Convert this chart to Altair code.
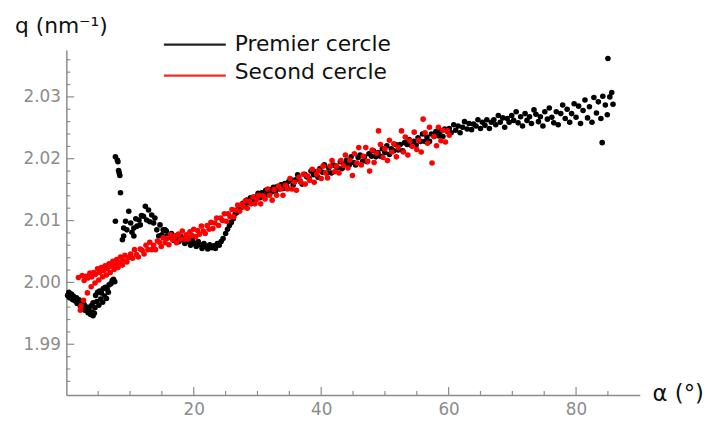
import altair as alt
import pandas as pd

# ---------------- data ----------------
# Premier cercle (black): (alpha in degrees, q in nm^-1)
black_start = [(0.2, 1.9979), (0.4, 1.9984), (0.5, 1.9975), (0.8, 1.9981), (1.0, 1.9972),
               (1.1, 1.9978), (1.4, 1.9970), (1.6, 1.9975), (1.7, 1.9966), (2.0, 1.9972),
               (2.2, 1.9962), (2.3, 1.9968), (2.6, 1.9959), (2.8, 1.9964), (2.9, 1.9955),
               (3.2, 1.9960), (3.4, 1.9951), (3.5, 1.9956), (3.8, 1.9948), (4.0, 1.9952),
               (4.2, 1.9946), (4.4, 1.9950)]
black_branch2 = [(3.9, 1.9962), (4.2, 1.9967), (4.5, 1.9959), (4.8, 1.9969), (5.1, 1.9963),
                 (5.4, 1.9973), (5.7, 1.9968), (6.0, 1.9978), (6.3, 1.9974), (6.6, 1.9984)]
black_branch3 = [(4.6, 1.9979), (4.9, 1.9984), (5.2, 1.9986), (5.5, 1.9983), (5.8, 1.9990),
                 (6.1, 1.9992), (6.4, 1.9989), (6.7, 1.9996), (7.0, 1.9998), (7.2, 2.0003),
                 (7.4, 2.0005), (7.6, 2.0001)]
black_jump = [(7.7, 2.0099), (7.7, 2.0203), (8.0, 2.0198), (8.1, 2.0195), (8.2, 2.0181),
              (8.3, 2.0177), (8.4, 2.0173), (8.5, 2.0145)]
black_cluster = [(8.8, 2.0069), (9.0, 2.0075), (9.0, 2.0088), (9.3, 2.0099), (9.5, 2.0085),
                 (9.8, 2.0115), (10.1, 2.0096), (10.3, 2.0081), (10.6, 2.0088), (10.6, 2.0075),
                 (10.9, 2.0103), (11.1, 2.0091), (11.4, 2.0101), (11.6, 2.0093), (11.8, 2.0108),
                 (12.1, 2.0107), (12.4, 2.0123), (12.6, 2.0101), (12.9, 2.0117), (13.1, 2.0098),
                 (13.4, 2.0109), (13.7, 2.0096), (13.9, 2.0104), (14.2, 2.0085), (14.5, 2.0075),
                 (14.7, 2.0093), (15.0, 2.0077), (15.2, 2.0085), (15.5, 2.0085), (15.7, 2.0083),
                 (15.8, 2.0075)]
black_dip = [(16.2, 2.0073), (16.5, 2.0079), (16.8, 2.0068), (17.1, 2.0075), (17.4, 2.0071),
             (17.7, 2.0066), (18.0, 2.0074), (18.3, 2.0069), (18.6, 2.0063), (18.9, 2.0072),
             (19.2, 2.0066), (19.5, 2.0060), (19.8, 2.0068), (20.1, 2.0063), (20.4, 2.0058),
             (20.7, 2.0066), (21.0, 2.0061), (21.3, 2.0055), (21.6, 2.0063), (21.9, 2.0058),
             (22.2, 2.0054), (22.5, 2.0061), (22.8, 2.0056), (23.1, 2.0059), (23.4, 2.0055),
             (23.7, 2.0063), (24.0, 2.0060), (24.3, 2.0066), (24.6, 2.0071)]
black_rise = [(25.0, 2.0079), (25.3, 2.0086), (25.6, 2.0092), (25.9, 2.0097), (26.2, 2.0103),
              (26.5, 2.0111), (26.8, 2.0113), (27.1, 2.0120), (27.4, 2.0121), (27.7, 2.0128),
              (28.0, 2.0124), (28.3, 2.0133), (28.6, 2.0129), (28.9, 2.0137), (29.2, 2.0131),
              (29.5, 2.0138), (29.8, 2.0134), (30.1, 2.0144), (30.4, 2.0137), (30.7, 2.0145),
              (31.0, 2.0140), (31.3, 2.0149), (31.6, 2.0142), (31.9, 2.0150), (32.2, 2.0146),
              (32.5, 2.0154), (32.8, 2.0147), (33.1, 2.0155), (33.4, 2.0151), (33.7, 2.0158),
              (34.0, 2.0152), (34.3, 2.0160), (34.6, 2.0155), (34.9, 2.0163)]
black_mid = [(35.3, 2.0166), (35.6, 2.0157), (36.0, 2.0166), (36.3, 2.0174), (36.7, 2.0164),
             (37.0, 2.0159), (37.4, 2.0175), (37.7, 2.0171), (38.1, 2.0168), (38.4, 2.0180),
             (38.8, 2.0174), (39.1, 2.0179), (39.5, 2.0170), (39.8, 2.0184), (40.2, 2.0178),
             (40.5, 2.0190), (40.9, 2.0177), (41.2, 2.0185), (41.6, 2.0177), (41.9, 2.0190),
             (42.3, 2.0188), (42.6, 2.0185), (43.0, 2.0195), (43.3, 2.0184), (43.7, 2.0192),
             (44.0, 2.0198), (44.4, 2.0190), (44.7, 2.0203), (45.1, 2.0194), (45.4, 2.0190),
             (45.8, 2.0202), (46.1, 2.0206), (46.5, 2.0196), (46.8, 2.0203), (47.2, 2.0195),
             (47.5, 2.0208), (47.9, 2.0204), (48.2, 2.0213), (48.6, 2.0203), (48.9, 2.0210),
             (49.3, 2.0204), (49.6, 2.0216), (50.0, 2.0210), (50.3, 2.0221), (50.7, 2.0207),
             (51.0, 2.0216), (51.4, 2.0213), (51.7, 2.0223), (52.1, 2.0214), (52.4, 2.0223),
             (52.8, 2.0213), (53.1, 2.0226), (53.5, 2.0223), (53.8, 2.0231), (54.2, 2.0221),
             (54.5, 2.0228), (54.9, 2.0222), (55.2, 2.0234), (55.6, 2.0228), (55.9, 2.0240),
             (56.3, 2.0228), (56.6, 2.0235), (57.0, 2.0228), (57.3, 2.0240), (57.7, 2.0236),
             (58.0, 2.0244), (58.4, 2.0237), (58.7, 2.0244), (59.1, 2.0236), (59.4, 2.0248),
             (59.8, 2.0244)]
black_end = [(60.1, 2.0249), (60.4, 2.0242), (60.8, 2.0255), (61.1, 2.0246), (61.5, 2.0253),
             (61.8, 2.0242), (62.2, 2.0251), (62.5, 2.0260), (62.9, 2.0248), (63.2, 2.0257),
             (63.6, 2.0247), (63.9, 2.0256), (64.3, 2.0253), (64.6, 2.0263), (65.0, 2.0249),
             (65.3, 2.0259), (65.7, 2.0254), (66.0, 2.0263), (66.4, 2.0249), (66.7, 2.0259),
             (67.1, 2.0263), (67.4, 2.0255), (67.8, 2.0270), (68.1, 2.0259), (68.5, 2.0266),
             (68.8, 2.0251), (69.2, 2.0265), (69.5, 2.0259), (69.9, 2.0270), (70.2, 2.0262),
             (70.6, 2.0276), (70.9, 2.0258), (71.3, 2.0268), (71.6, 2.0253), (72.0, 2.0273),
             (72.3, 2.0262), (72.7, 2.0268), (73.0, 2.0257), (73.4, 2.0279), (73.7, 2.0272),
             (74.1, 2.0260), (74.4, 2.0268), (74.8, 2.0253), (75.1, 2.0276), (75.5, 2.0264),
             (75.8, 2.0282), (76.2, 2.0267), (76.5, 2.0258), (76.9, 2.0276), (77.2, 2.0255),
             (77.6, 2.0273), (77.9, 2.0287), (78.3, 2.0265), (78.6, 2.0280), (79.0, 2.0259),
             (79.3, 2.0273), (79.7, 2.0289), (80.0, 2.0267), (80.4, 2.0285), (80.7, 2.0257),
             (81.1, 2.0278), (81.4, 2.0295), (81.8, 2.0266), (82.1, 2.0284), (82.5, 2.0259),
             (82.8, 2.0299), (83.2, 2.0274), (83.5, 2.0292), (83.9, 2.0265), (84.1, 2.0226),
             (84.2, 2.0301), (84.6, 2.0287), (84.9, 2.0271), (85.0, 2.0362), (85.3, 2.0300),
             (85.6, 2.0307), (85.8, 2.0288)]

# Second cercle (red)
red_start = [(1.9, 2.0008), (2.2, 1.9955), (2.3, 1.9962), (2.5, 2.0011), (2.7, 1.9971),
             (2.8, 2.0003), (3.1, 2.0010), (3.3, 1.9983), (3.4, 2.0007), (3.7, 2.0015),
             (3.9, 1.9993), (4.0, 2.0009), (4.3, 2.0016), (4.5, 1.9999), (4.6, 2.0013),
             (4.9, 2.0022), (5.1, 2.0004), (5.2, 2.0016), (5.5, 2.0024), (5.7, 2.0009),
             (5.8, 2.0019), (6.1, 2.0027), (6.3, 2.0012), (6.4, 2.0022), (6.7, 2.0030),
             (6.9, 2.0016), (7.0, 2.0026), (7.3, 2.0034), (7.5, 2.0021), (7.6, 2.0029),
             (7.9, 2.0037), (8.1, 2.0024), (8.2, 2.0032), (8.5, 2.0041), (8.8, 2.0028),
             (8.9, 2.0036), (9.2, 2.0044), (9.5, 2.0033), (9.7, 2.0040)]
red_low = [(10.1, 2.0046), (10.4, 2.0039), (10.7, 2.0053), (11.0, 2.0045), (11.3, 2.0041),
           (11.6, 2.0054), (11.9, 2.0052), (12.2, 2.0046), (12.5, 2.0060), (12.8, 2.0053),
           (13.1, 2.0065), (13.4, 2.0053), (13.7, 2.0060), (14.0, 2.0053), (14.3, 2.0067),
           (14.6, 2.0065), (14.9, 2.0058), (15.2, 2.0072), (15.5, 2.0064), (15.8, 2.0071),
           (16.1, 2.0061), (16.4, 2.0077), (16.7, 2.0069), (17.0, 2.0074), (17.3, 2.0064),
           (17.6, 2.0078), (17.9, 2.0070), (18.2, 2.0083), (18.5, 2.0070), (18.8, 2.0077),
           (19.1, 2.0070), (19.4, 2.0082), (19.7, 2.0076), (20.0, 2.0086), (20.3, 2.0074),
           (20.6, 2.0084), (20.9, 2.0078), (21.2, 2.0091), (21.5, 2.0083), (21.8, 2.0079)]
red_rise = [(22.1, 2.0092), (22.4, 2.0086), (22.7, 2.0097), (23.0, 2.0087), (23.3, 2.0096),
            (23.6, 2.0104), (23.9, 2.0092), (24.2, 2.0104), (24.5, 2.0100), (24.8, 2.0111),
            (25.1, 2.0099), (25.4, 2.0111), (25.7, 2.0106), (26.0, 2.0118), (26.3, 2.0106),
            (26.6, 2.0117), (26.9, 2.0125), (27.2, 2.0115), (27.5, 2.0126), (27.8, 2.0122),
            (28.1, 2.0132), (28.4, 2.0120), (28.7, 2.0131), (29.0, 2.0127), (29.3, 2.0138),
            (29.6, 2.0127), (29.9, 2.0135)]
red_mid = [(30.2, 2.0141), (30.5, 2.0127), (30.9, 2.0140), (31.2, 2.0135), (31.6, 2.0151),
           (31.9, 2.0141), (32.3, 2.0133), (32.6, 2.0150), (33.0, 2.0141), (33.3, 2.0156),
           (33.7, 2.0151), (34.0, 2.0141), (34.4, 2.0157), (34.7, 2.0151), (35.1, 2.0168),
           (35.4, 2.0151), (35.8, 2.0162), (36.1, 2.0149), (36.5, 2.0170), (36.8, 2.0162),
           (37.2, 2.0175), (37.5, 2.0159), (37.9, 2.0172), (38.2, 2.0165), (38.6, 2.0183),
           (38.9, 2.0162), (39.3, 2.0175), (39.6, 2.0181), (40.0, 2.0168), (40.3, 2.0188),
           (40.7, 2.0177), (41.0, 2.0169), (41.4, 2.0188), (41.7, 2.0197), (42.1, 2.0179),
           (42.4, 2.0188), (42.8, 2.0177), (43.1, 2.0197), (43.5, 2.0189), (43.8, 2.0206),
           (44.2, 2.0185), (44.5, 2.0198), (44.9, 2.0173), (45.2, 2.0208), (45.6, 2.0193),
           (45.9, 2.0218)]
red_end = [(46.3, 2.0190), (46.6, 2.0204), (47.0, 2.0218), (47.3, 2.0196), (47.6, 2.0180),
           (48.0, 2.0214), (48.3, 2.0194), (48.7, 2.0209), (49.0, 2.0245), (49.3, 2.0223),
           (49.7, 2.0202), (50.0, 2.0216), (50.4, 2.0197), (50.7, 2.0230), (51.1, 2.0211),
           (51.4, 2.0224), (51.8, 2.0203), (52.1, 2.0218), (52.6, 2.0245), (52.9, 2.0211),
           (53.2, 2.0235), (53.6, 2.0206), (53.9, 2.0229), (54.3, 2.0220), (54.6, 2.0243),
           (55.0, 2.0215), (55.3, 2.0230), (55.7, 2.0211), (56.0, 2.0264), (56.3, 2.0242),
           (56.7, 2.0225), (57.0, 2.0251), (57.4, 2.0193), (57.7, 2.0236), (58.1, 2.0221),
           (58.4, 2.0251), (58.8, 2.0229), (59.1, 2.0246), (59.5, 2.0227), (59.8, 2.0245),
           (60.1, 2.0238)]

# axis ticks
x_major = [20, 40, 60, 80]
x_minor = [5, 10, 15, 25, 30, 35, 45, 50, 55, 65, 70, 75, 85]
y_major = [1.99, 2.00, 2.01, 2.02, 2.03]
y_minor = [1.984, 1.986, 1.988, 1.992, 1.994, 1.996, 1.998, 2.002, 2.004, 2.006, 2.008,
           2.012, 2.014, 2.016, 2.018, 2.022, 2.024, 2.026, 2.028, 2.032, 2.034, 2.036]

legend_labels = ["Premier cercle", "Second cercle"]
x_title = "α (°)"
y_title = "q (nm⁻¹)"

# ---------------- chart ----------------
black = (black_start + black_branch2 + black_branch3 + black_jump + black_cluster
         + black_dip + black_rise + black_mid + black_end)
red = red_start + red_low + red_rise + red_mid + red_end
df_black = pd.DataFrame(black, columns=["alpha", "q"])
df_red = pd.DataFrame(red, columns=["alpha", "q"])

W, H = 580, 349
FONT = "DejaVu Sans"
GRAY = "#8c8c8c"

xscale = alt.Scale(domain=[0, 90], nice=False, zero=False)
yscale = alt.Scale(domain=[1.9818, 2.0376], nice=False, zero=False)
xaxis = alt.Axis(values=x_major, ticks=False, tickSize=0, grid=False, domainColor=GRAY,
                 domainWidth=1.5, labelColor=GRAY, labelFontSize=17, labelFont=FONT,
                 labelPadding=7, title=None, format="d")
yaxis = alt.Axis(values=y_major, ticks=False, tickSize=0, grid=False, domainColor=GRAY,
                 domainWidth=1.5, labelColor=GRAY, labelFontSize=17, labelFont=FONT,
                 labelPadding=6, title=None, format=".2f")


def xenc(field):
    return alt.X(field, type="quantitative", scale=xscale, axis=xaxis)


def yenc(field):
    return alt.Y(field, type="quantitative", scale=yscale, axis=yaxis)


xt_major = alt.Chart(pd.DataFrame({"v": x_major})).mark_rule(color=GRAY, strokeWidth=1.2).encode(
    x=xenc("v"), y=alt.value(H), y2=alt.value(H - 8))
xt_minor = alt.Chart(pd.DataFrame({"v": x_minor})).mark_rule(color=GRAY, strokeWidth=1.2).encode(
    x=xenc("v"), y=alt.value(H), y2=alt.value(H - 4))
yt_major = alt.Chart(pd.DataFrame({"v": y_major})).mark_rule(color=GRAY, strokeWidth=1.2).encode(
    y=yenc("v"), x=alt.value(0), x2=alt.value(8))
yt_minor = alt.Chart(pd.DataFrame({"v": y_minor})).mark_rule(color=GRAY, strokeWidth=1.2).encode(
    y=yenc("v"), x=alt.value(0), x2=alt.value(4))

pts_black = alt.Chart(df_black).mark_circle(size=32, color="#000000", opacity=1).encode(
    x=xenc("alpha"), y=yenc("q"))
pts_red = alt.Chart(df_red).mark_circle(size=32, color="#ff0000", opacity=1).encode(
    x=xenc("alpha"), y=yenc("q"))

leg1_df = pd.DataFrame({"label": [legend_labels[0]]})
leg2_df = pd.DataFrame({"label": [legend_labels[1]]})
leg1_line = alt.Chart(leg1_df).mark_rule(color="#222222", strokeWidth=2.4).encode(
    x=alt.value(98.7), x2=alt.value(161.3), y=alt.value(-5.3))
leg2_line = alt.Chart(leg2_df).mark_rule(color="#ee2b2b", strokeWidth=2.4).encode(
    x=alt.value(98.7), x2=alt.value(161.3), y=alt.value(26))
leg1_text = alt.Chart(leg1_df).mark_text(align="left", baseline="alphabetic", font=FONT,
                                         fontSize=22, color="#111111").encode(
    x=alt.value(170.3), y=alt.value(1), text="label:N")
leg2_text = alt.Chart(leg2_df).mark_text(align="left", baseline="alphabetic", font=FONT,
                                         fontSize=22, color="#111111").encode(
    x=alt.value(170.3), y=alt.value(29.3), text="label:N")

ytitle = alt.Chart(pd.DataFrame({"t": [y_title]})).mark_text(
    align="left", baseline="alphabetic", font=FONT, fontSize=22, color="#111111").encode(
    x=alt.value(-52), y=alt.value(-17), text="t:N")
xtitle = alt.Chart(pd.DataFrame({"t": [x_title]})).mark_text(
    align="left", baseline="alphabetic", font=FONT, fontSize=23, color="#111111").encode(
    x=alt.value(593), y=alt.value(355), text="t:N")

chart = alt.layer(
    xt_minor, xt_major, yt_minor, yt_major, pts_black, pts_red,
    leg1_line, leg2_line, leg1_text, leg2_text, ytitle, xtitle
).properties(
    width=W, height=H,
    padding={"left": 59, "top": 40, "right": 68, "bottom": 26},
    autosize=alt.AutoSizeParams(type="none"),
    background="white",
).configure_view(stroke=None)

chart.save("out.html", embed_options={"renderer": "svg", "actions": False})
